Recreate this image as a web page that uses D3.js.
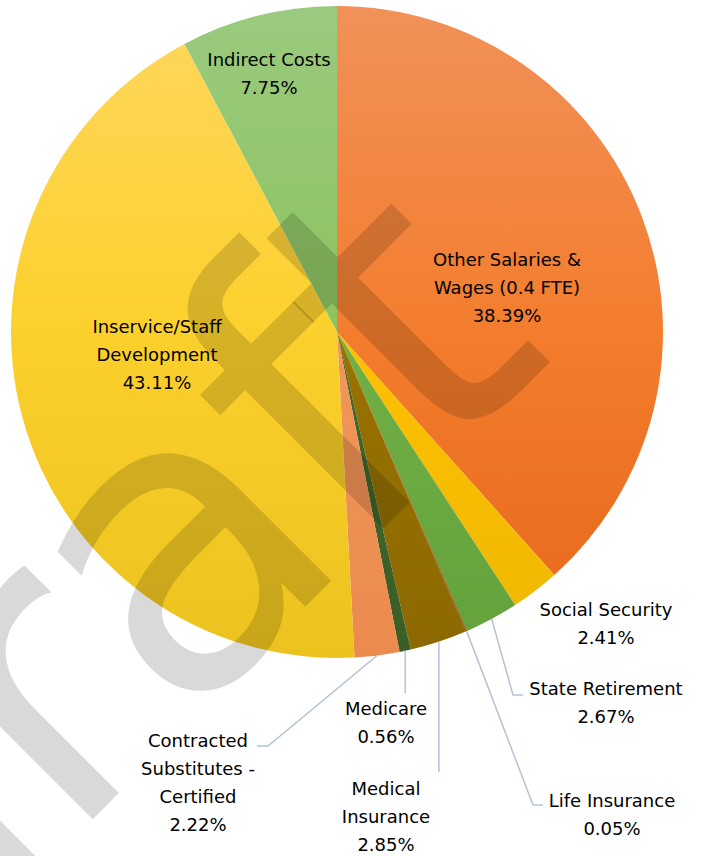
<!DOCTYPE html>
<html>
<head>
<meta charset="utf-8">
<script src="https://cdn.jsdelivr.net/npm/d3@7"></script>
<style>
  html, body { margin: 0; padding: 0; background: #ffffff; }
  svg { display: block; }
</style>
</head>
<body>
<svg id="chart" width="701" height="856"></svg>
<script>
// ---------------- data ----------------
const categories = [
  "Other Salaries & Wages (0.4 FTE)",
  "Social Security",
  "State Retirement",
  "Life Insurance",
  "Medical Insurance",
  "Medicare",
  "Contracted Substitutes - Certified",
  "Inservice/Staff Development",
  "Indirect Costs"
];
const values = [38.39, 2.41, 2.67, 0.05, 2.85, 0.56, 2.22, 43.11, 7.75];
const labelLines = [
  ["Other Salaries &", "Wages (0.4 FTE)"],
  ["Social Security"],
  ["State Retirement"],
  ["Life Insurance"],
  ["Medical", "Insurance"],
  ["Medicare"],
  ["Contracted", "Substitutes -", "Certified"],
  ["Inservice/Staff", "Development"],
  ["Indirect Costs"]
];
const watermarkText = "draft";

// ---------------- styles / layout ----------------
const sliceColors = [
  ["#F19159", "#F37D2D", "#E6661A"],
  ["#FFCC33", "#FFC000", "#EDB800"],
  ["#88BF68", "#72B046", "#62A23A"],
  ["#A9531A", "#9E480E", "#8E3F0A"],
  ["#A57E10", "#997300", "#8C6900"],
  ["#4D7434", "#43682B", "#3A5E25"],
  ["#F4A26C", "#F1975A", "#EB8A4E"],
  ["#FED75E", "#FCD02C", "#EBC21E"],
  ["#9ACA7F", "#8DC35E", "#80B84E"]
];
const cx = 337, cy = 332, R = 326;
const fontFamily = "'DejaVu Sans', sans-serif";
const fontSize = 18;
const lineH = 28;

const labelLayout = [
  { x: 507, y: 266 },
  { x: 606, y: 616 },
  { x: 606, y: 695, leader: [[513, 695], [523, 695]] },
  { x: 612, y: 807, leader: [[533, 805], [543, 805]] },
  { x: 386, y: 795, leader: [[439, 772]], vertical: true },
  { x: 386, y: 715, leader: [[405, 693]], vertical: true },
  { x: 198, y: 747, leader: [[268, 746], [257, 746]] },
  { x: 157, y: 333 },
  { x: 269, y: 66 }
];

const svg = d3.select("#chart");
const defs = svg.append("defs");

const pie = d3.pie().sort(null).value(d => d)
  .startAngle(0).endAngle(2 * Math.PI);
const arcs = pie(values);
const arcGen = d3.arc().innerRadius(0).outerRadius(R);

arcs.forEach((a, i) => {
  const g = defs.append("linearGradient")
    .attr("id", "grad" + i)
    .attr("gradientUnits", "userSpaceOnUse")
    .attr("x1", 0).attr("x2", 0)
    .attr("y1", -R).attr("y2", R);
  g.append("stop").attr("offset", "0%").attr("stop-color", sliceColors[i][0]);
  g.append("stop").attr("offset", "50%").attr("stop-color", sliceColors[i][1]);
  g.append("stop").attr("offset", "100%").attr("stop-color", sliceColors[i][2]);
});

const gPie = svg.append("g").attr("transform", `translate(${cx},${cy})`);
gPie.selectAll("path.slice")
  .data(arcs)
  .join("path")
  .attr("class", "slice")
  .attr("d", arcGen)
  .attr("fill", (d, i) => `url(#grad${i})`);

// watermark
const wm = svg.append("g")
  .attr("transform", "translate(-112,1024) rotate(-45)");
wm.append("text")
  .attr("x", 0).attr("y", 0)
  .attr("font-family", fontFamily)
  .attr("font-size", 410)
  .attr("letter-spacing", -8)
  .style("font-variant-ligatures", "none")
  .style("font-feature-settings", "'liga' 0, 'clig' 0")
  .attr("fill", "#000")
  .attr("fill-opacity", 0.15)
  .text(watermarkText);

// leader lines
const edgePoint = (a) => {
  const m = (a.startAngle + a.endAngle) / 2;
  return [cx + R * Math.sin(m), cy - R * Math.cos(m)];
};
const lineGen = d3.line();
arcs.forEach((a, i) => {
  const L = labelLayout[i];
  if (!L.leader) return;
  const p0 = edgePoint(a);
  let pts = [p0];
  if (L.vertical) pts.push([p0[0], L.leader[0][1]]);
  else pts = pts.concat(L.leader);
  svg.append("path")
    .attr("d", lineGen(pts))
    .attr("fill", "none")
    .attr("stroke", "#B4C2D4")
    .attr("stroke-width", 1.5);
});

// labels
arcs.forEach((a, i) => {
  const L = labelLayout[i];
  const lines = labelLines[i].concat([d3.format(".2f")(values[i]) + "%"]);
  const t = svg.append("text")
    .attr("font-family", fontFamily)
    .attr("font-size", fontSize)
    .attr("fill", "#000")
    .attr("text-anchor", "middle");
  lines.forEach((ln, k) => {
    t.append("tspan").attr("x", L.x).attr("y", L.y + k * lineH).text(ln);
  });
});
</script>
</body>
</html>
